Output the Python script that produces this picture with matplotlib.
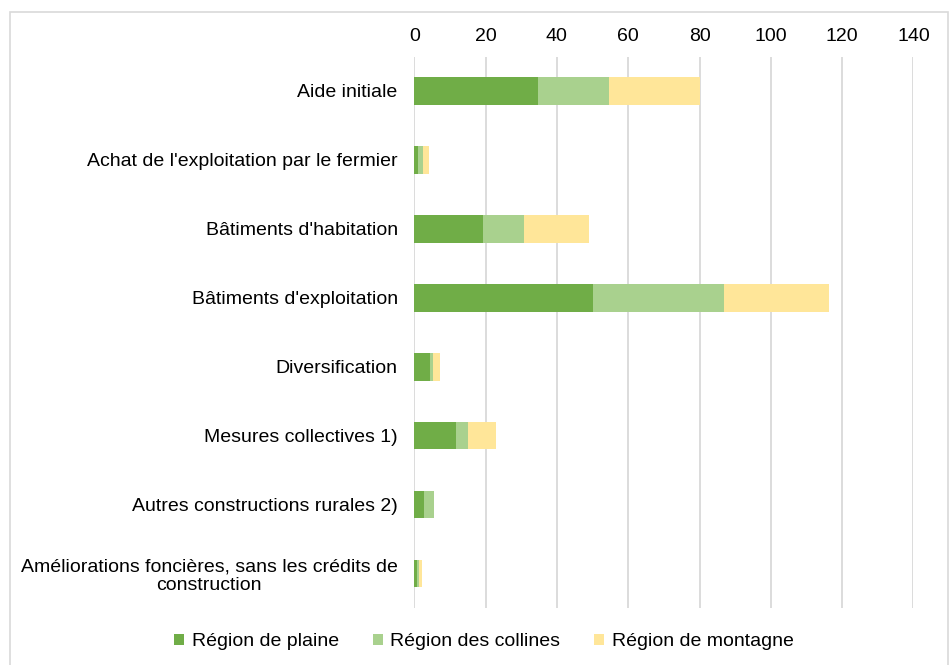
import matplotlib
matplotlib.use("Agg")
import matplotlib.pyplot as plt
from matplotlib.patches import Rectangle

categories = [
    "Aide initiale",
    "Achat de l'exploitation par le fermier",
    "Bâtiments d'habitation",
    "Bâtiments d'exploitation",
    "Diversification",
    "Mesures collectives 1)",
    "Autres constructions rurales 2)",
    "Améliorations foncières, sans les crédits de\nconstruction",
]
plaine = [34.6, 1.0, 19.3, 50.2, 4.5, 11.7, 2.7, 0.7]
collines = [20.1, 1.4, 11.4, 36.8, 0.7, 3.4, 2.8, 0.6]
montagne = [25.5, 1.6, 18.4, 29.3, 1.9, 7.7, 0.0, 0.9]
series_names = ["Région de plaine", "Région des collines", "Région de montagne"]
colors = ["#70AD47", "#A9D18E", "#FFE699"]
xticks = [0, 20, 40, 60, 80, 100, 120, 140]

plt.rcParams['font.family'] = ['Liberation Sans', 'DejaVu Sans']

fig = plt.figure(figsize=(9.5, 6.65), dpi=100)
W, H = 950, 665
ax = fig.add_axes([414.3 / W, 1 - 608 / H, (913.4 - 414.3) / W, (608 - 56.5) / H])

y = list(range(len(categories)))
left = [0.0] * len(categories)
for vals, name, c in zip([plaine, collines, montagne], series_names, colors):
    ax.barh(y, vals, left=left, height=0.4, color=c, label=name, zorder=3)
    left = [l + v for l, v in zip(left, vals)]

ax.set_ylim(len(categories) - 0.5, -0.5)
ax.set_xlim(0, 140)
ax.set_xticks(xticks)
ax.set_yticks(y)
ax.set_yticklabels(categories, fontsize=14, ha='right', multialignment='center',
                   linespacing=1.12)
ax.xaxis.tick_top()
ax.tick_params(axis='x', length=0, pad=8, labelsize=14, colors='#000000')
ax.tick_params(axis='y', length=0, pad=12)
ax.grid(axis='x', color='#d9d9d9', linewidth=1.3, zorder=0)
for s in ax.spines.values():
    s.set_visible(False)

leg = fig.legend(loc='center', bbox_to_anchor=(484 / W, 1 - 642 / H), ncol=3,
                 frameon=False, fontsize=14, handlelength=0.5, handleheight=0.5,
                 handletextpad=0.4, columnspacing=1.75)

fig.patches.append(Rectangle((9.5 / W, -0.01), (948 - 9.5) / W, 1 - 12 / H + 0.01,
                             transform=fig.transFigure, fill=False,
                             edgecolor='#d9d9d9', linewidth=1.2))

fig.savefig("out.png", dpi=100)
